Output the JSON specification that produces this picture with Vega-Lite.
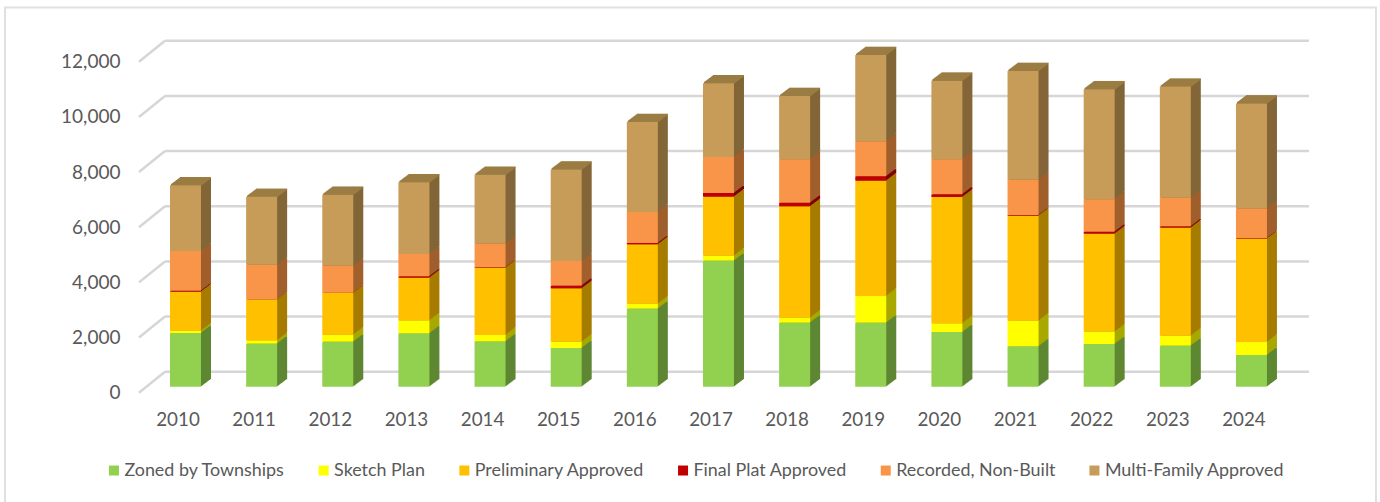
{"$schema":"https://vega.github.io/schema/vega-lite/v6.json","autosize":{"type":"none"},"width":1371,"height":500,"padding":{"left":5,"top":7.5,"right":4,"bottom":-5.5},"background":"white","config":{"view":{"stroke":"#e0e0e0","strokeWidth":2},"font":"Lato"},"datasets":{"bars":[
{"year":2010,"series":"Zoned by Townships","rank":1,"value":1946},{"year":2010,"series":"Sketch Plan","rank":2,"value":85},{"year":2010,"series":"Preliminary Approved","rank":3,"value":1414},{"year":2010,"series":"Final Plat Approved","rank":4,"value":36},{"year":2010,"series":"Recorded, Non-Built","rank":5,"value":1439},{"year":2010,"series":"Multi-Family Approved","rank":6,"value":2382},
{"year":2011,"series":"Zoned by Townships","rank":1,"value":1560},{"year":2011,"series":"Sketch Plan","rank":2,"value":121},{"year":2011,"series":"Preliminary Approved","rank":3,"value":1475},{"year":2011,"series":"Final Plat Approved","rank":4,"value":5},{"year":2011,"series":"Recorded, Non-Built","rank":5,"value":1257},{"year":2011,"series":"Multi-Family Approved","rank":6,"value":2466},
{"year":2012,"series":"Zoned by Townships","rank":1,"value":1632},{"year":2012,"series":"Sketch Plan","rank":2,"value":254},{"year":2012,"series":"Preliminary Approved","rank":3,"value":1511},{"year":2012,"series":"Final Plat Approved","rank":4,"value":10},{"year":2012,"series":"Recorded, Non-Built","rank":5,"value":979},{"year":2012,"series":"Multi-Family Approved","rank":6,"value":2575},
{"year":2013,"series":"Zoned by Townships","rank":1,"value":1934},{"year":2013,"series":"Sketch Plan","rank":2,"value":471},{"year":2013,"series":"Preliminary Approved","rank":3,"value":1547},{"year":2013,"series":"Final Plat Approved","rank":4,"value":50},{"year":2013,"series":"Recorded, Non-Built","rank":5,"value":810},{"year":2013,"series":"Multi-Family Approved","rank":6,"value":2599},
{"year":2014,"series":"Zoned by Townships","rank":1,"value":1644},{"year":2014,"series":"Sketch Plan","rank":2,"value":230},{"year":2014,"series":"Preliminary Approved","rank":3,"value":2442},{"year":2014,"series":"Final Plat Approved","rank":4,"value":20},{"year":2014,"series":"Recorded, Non-Built","rank":5,"value":858},{"year":2014,"series":"Multi-Family Approved","rank":6,"value":2490},
{"year":2015,"series":"Zoned by Townships","rank":1,"value":1402},{"year":2015,"series":"Sketch Plan","rank":2,"value":230},{"year":2015,"series":"Preliminary Approved","rank":3,"value":1934},{"year":2015,"series":"Final Plat Approved","rank":4,"value":97},{"year":2015,"series":"Recorded, Non-Built","rank":5,"value":895},{"year":2015,"series":"Multi-Family Approved","rank":6,"value":3318},
{"year":2016,"series":"Zoned by Townships","rank":1,"value":2829},{"year":2016,"series":"Sketch Plan","rank":2,"value":181},{"year":2016,"series":"Preliminary Approved","rank":3,"value":2152},{"year":2016,"series":"Final Plat Approved","rank":4,"value":48},{"year":2016,"series":"Recorded, Non-Built","rank":5,"value":1124},{"year":2016,"series":"Multi-Family Approved","rank":6,"value":3264},
{"year":2017,"series":"Zoned by Townships","rank":1,"value":4570},{"year":2017,"series":"Sketch Plan","rank":2,"value":181},{"year":2017,"series":"Preliminary Approved","rank":3,"value":2140},{"year":2017,"series":"Final Plat Approved","rank":4,"value":133},{"year":2017,"series":"Recorded, Non-Built","rank":5,"value":1306},{"year":2017,"series":"Multi-Family Approved","rank":6,"value":2672},
{"year":2018,"series":"Zoned by Townships","rank":1,"value":2321},{"year":2018,"series":"Sketch Plan","rank":2,"value":181},{"year":2018,"series":"Preliminary Approved","rank":3,"value":4038},{"year":2018,"series":"Final Plat Approved","rank":4,"value":133},{"year":2018,"series":"Recorded, Non-Built","rank":5,"value":1572},{"year":2018,"series":"Multi-Family Approved","rank":6,"value":2297},
{"year":2019,"series":"Zoned by Townships","rank":1,"value":2321},{"year":2019,"series":"Sketch Plan","rank":2,"value":967},{"year":2019,"series":"Preliminary Approved","rank":3,"value":4183},{"year":2019,"series":"Final Plat Approved","rank":4,"value":157},{"year":2019,"series":"Recorded, Non-Built","rank":5,"value":1269},{"year":2019,"series":"Multi-Family Approved","rank":6,"value":3131},
{"year":2020,"series":"Zoned by Townships","rank":1,"value":1983},{"year":2020,"series":"Sketch Plan","rank":2,"value":314},{"year":2020,"series":"Preliminary Approved","rank":3,"value":4582},{"year":2020,"series":"Final Plat Approved","rank":4,"value":97},{"year":2020,"series":"Recorded, Non-Built","rank":5,"value":1269},{"year":2020,"series":"Multi-Family Approved","rank":6,"value":2853},
{"year":2021,"series":"Zoned by Townships","rank":1,"value":1463},{"year":2021,"series":"Sketch Plan","rank":2,"value":931},{"year":2021,"series":"Preliminary Approved","rank":3,"value":3808},{"year":2021,"series":"Final Plat Approved","rank":4,"value":24},{"year":2021,"series":"Recorded, Non-Built","rank":5,"value":1282},{"year":2021,"series":"Multi-Family Approved","rank":6,"value":3941},
{"year":2022,"series":"Zoned by Townships","rank":1,"value":1548},{"year":2022,"series":"Sketch Plan","rank":2,"value":447},{"year":2022,"series":"Preliminary Approved","rank":3,"value":3554},{"year":2022,"series":"Final Plat Approved","rank":4,"value":73},{"year":2022,"series":"Recorded, Non-Built","rank":5,"value":1173},{"year":2022,"series":"Multi-Family Approved","rank":6,"value":3990},
{"year":2023,"series":"Zoned by Townships","rank":1,"value":1487},{"year":2023,"series":"Sketch Plan","rank":2,"value":363},{"year":2023,"series":"Preliminary Approved","rank":3,"value":3917},{"year":2023,"series":"Final Plat Approved","rank":4,"value":48},{"year":2023,"series":"Recorded, Non-Built","rank":5,"value":1040},{"year":2023,"series":"Multi-Family Approved","rank":6,"value":4026},
{"year":2024,"series":"Zoned by Townships","rank":1,"value":1149},{"year":2024,"series":"Sketch Plan","rank":2,"value":471},{"year":2024,"series":"Preliminary Approved","rank":3,"value":3748},{"year":2024,"series":"Final Plat Approved","rank":4,"value":20},{"year":2024,"series":"Recorded, Non-Built","rank":5,"value":1076},{"year":2024,"series":"Multi-Family Approved","rank":6,"value":3808}
],"grid":[{"tick":0,"back":761},{"tick":2000,"back":2761},{"tick":4000,"back":4761},{"tick":6000,"back":6761},{"tick":8000,"back":8761},{"tick":10000,"back":10761},{"tick":12000,"back":12761}]},
"layer":[
{"data":{"name":"grid"},"mark":{"type":"rule","color":"#d6d6d6","strokeWidth":2.5},"encoding":{"x":{"datum":2009.7308,"type":"quantitative","scale":{"domain":[2007.6294,2025.6357],"nice":false,"zero":false,"padding":0},"axis":null},"x2":{"datum":2024.7556},"y":{"field":"back","type":"quantitative","scale":{"domain":[-4162,13967],"nice":false,"zero":false},"axis":null}}},
{"data":{"name":"grid"},"mark":{"type":"rule","color":"#d6d6d6","strokeWidth":2.5},"encoding":{"x":{"datum":2009.3893,"type":"quantitative","scale":{"domain":[2007.6294,2025.6357],"nice":false,"zero":false,"padding":0},"axis":null},"x2":{"datum":2009.7308},"y":{"field":"tick","type":"quantitative","scale":{"domain":[-4162,13967],"nice":false,"zero":false},"axis":null},"y2":{"field":"back"}}},
{"data":{"name":"bars"},"encoding":{"x":{"field":"year","type":"quantitative","scale":{"domain":[2007.6294,2025.6357],"nice":false,"zero":false,"padding":0},"axis":null},"y":{"field":"value","type":"quantitative","stack":"zero","scale":{"domain":[-4162,13967],"nice":false,"zero":false},"axis":null},"order":{"field":"rank"},"color":{"field":"series","type":"nominal","legend":null,"scale":{"domain":["Zoned by Townships","Sketch Plan","Preliminary Approved","Final Plat Approved","Recorded, Non-Built","Multi-Family Approved"],"range":["#5f8733","#a8a800","#a67c00","#800000","#a05f2c","#836638"]}}},"layer":[
{"mark":{"type":"bar","orient":"vertical","size":31,"xOffset":10,"yOffset":-13.5}},
{"mark":{"type":"bar","orient":"vertical","size":31,"xOffset":9,"yOffset":-12.75}},
{"mark":{"type":"bar","orient":"vertical","size":31,"xOffset":8,"yOffset":-12}},
{"mark":{"type":"bar","orient":"vertical","size":31,"xOffset":7,"yOffset":-11.25}},
{"mark":{"type":"bar","orient":"vertical","size":31,"xOffset":6,"yOffset":-10.5}},
{"mark":{"type":"bar","orient":"vertical","size":31,"xOffset":5,"yOffset":-9.75}},
{"mark":{"type":"bar","orient":"vertical","size":31,"xOffset":4,"yOffset":-9}},
{"mark":{"type":"bar","orient":"vertical","size":31,"xOffset":3,"yOffset":-8.25}},
{"mark":{"type":"bar","orient":"vertical","size":31,"xOffset":2,"yOffset":-7.5}},
{"mark":{"type":"bar","orient":"vertical","size":31,"xOffset":1,"yOffset":-6.75}}
]},
{"data":{"name":"bars"},"transform":[{"aggregate":[{"op":"sum","field":"value","as":"total"}],"groupby":["year"]}],"encoding":{"x":{"field":"year","type":"quantitative","scale":{"domain":[2007.6294,2025.6357],"nice":false,"zero":false,"padding":0},"axis":null},"y":{"field":"total","type":"quantitative","scale":{"domain":[-4162,13967],"nice":false,"zero":false},"axis":null}},"layer":[
{"mark":{"type":"tick","orient":"horizontal","color":"#9b7d44","opacity":1,"size":31,"thickness":1.6,"xOffset":10,"yOffset":-13.5}},
{"mark":{"type":"tick","orient":"horizontal","color":"#9b7d44","opacity":1,"size":31,"thickness":1.6,"xOffset":9,"yOffset":-12.75}},
{"mark":{"type":"tick","orient":"horizontal","color":"#9b7d44","opacity":1,"size":31,"thickness":1.6,"xOffset":8,"yOffset":-12}},
{"mark":{"type":"tick","orient":"horizontal","color":"#9b7d44","opacity":1,"size":31,"thickness":1.6,"xOffset":7,"yOffset":-11.25}},
{"mark":{"type":"tick","orient":"horizontal","color":"#9b7d44","opacity":1,"size":31,"thickness":1.6,"xOffset":6,"yOffset":-10.5}},
{"mark":{"type":"tick","orient":"horizontal","color":"#9b7d44","opacity":1,"size":31,"thickness":1.6,"xOffset":5,"yOffset":-9.75}},
{"mark":{"type":"tick","orient":"horizontal","color":"#9b7d44","opacity":1,"size":31,"thickness":1.6,"xOffset":4,"yOffset":-9}},
{"mark":{"type":"tick","orient":"horizontal","color":"#9b7d44","opacity":1,"size":31,"thickness":1.6,"xOffset":3,"yOffset":-8.25}},
{"mark":{"type":"tick","orient":"horizontal","color":"#9b7d44","opacity":1,"size":31,"thickness":1.6,"xOffset":2,"yOffset":-7.5}},
{"mark":{"type":"tick","orient":"horizontal","color":"#9b7d44","opacity":1,"size":31,"thickness":1.6,"xOffset":1,"yOffset":-6.75}}
]},
{"data":{"name":"bars"},"mark":{"type":"bar","orient":"vertical","size":31,"yOffset":-6},"encoding":{"x":{"field":"year","type":"quantitative","title":null,"scale":{"domain":[2007.6294,2025.6357],"nice":false,"zero":false,"padding":0},"axis":{"values":[2010,2011,2012,2013,2014,2015,2016,2017,2018,2019,2020,2021,2022,2023,2024],"format":"d","domain":false,"ticks":false,"grid":false,"offset":-97,"labelPadding":0,"labelOffset":-8,"labelFont":"Lato","labelFontSize":18.8,"labelColor":"#595959","labelOverlap":false}},"y":{"field":"value","type":"quantitative","stack":"zero","title":null,"scale":{"domain":[-4162,13967],"nice":false,"zero":false},"axis":{"values":[0,2000,4000,6000,8000,10000,12000],"format":",.0f","domain":false,"ticks":false,"grid":false,"offset":-115,"labelPadding":0,"labelFont":"Lato","labelFontSize":19,"labelColor":"#595959"}},"order":{"field":"rank"},"color":{"field":"series","type":"nominal","title":null,"scale":{"domain":["Zoned by Townships","Sketch Plan","Preliminary Approved","Final Plat Approved","Recorded, Non-Built","Multi-Family Approved"],"range":["#92d050","#ffff00","#ffc000","#c00000","#f99548","#c69c58"]},"legend":{"orient":"none","legendX":100,"legendY":454,"direction":"horizontal","columns":6,"symbolType":"square","symbolSize":100,"symbolStrokeWidth":0,"labelFont":"Lato","labelFontSize":17.9,"labelColor":"#595959","labelOffset":1.5,"columnPadding":29.7,"labelLimit":300}}}}
],"resolve":{"scale":{"color":"independent"},"axis":{"x":"independent","y":"independent"}}}
